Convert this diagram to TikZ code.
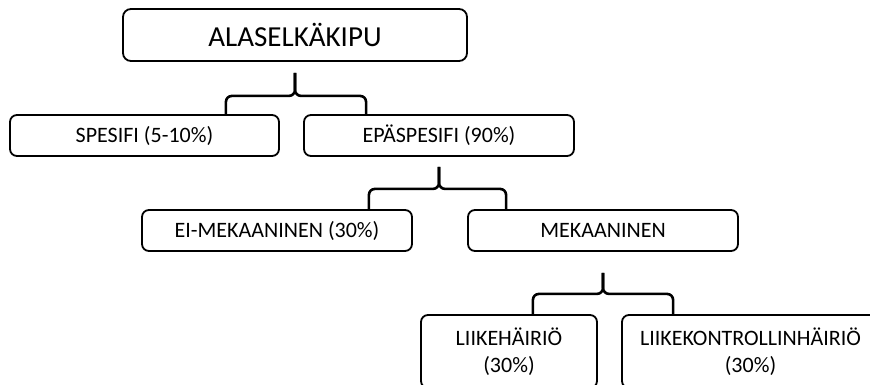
\documentclass[tikz,border=0pt]{standalone}
\usepackage{fontspec}
\setmainfont{Carlito}
\usepackage{tikz}

\begin{document}
\begin{tikzpicture}
[x=1pt,y=-1pt,
root/.style={rectangle,draw=black,line width=1.8pt,rounded corners=8pt,minimum width=344pt,minimum height=52pt,inner sep=0pt,font=\fontsize{29}{35}\selectfont},
catg/.style={rectangle,draw=black,line width=1.8pt,rounded corners=7pt,minimum width=270pt,minimum height=41pt,inner sep=0pt,align=center,font=\fontsize{22}{27}\selectfont},
subc/.style={catg,minimum height=73pt},
brac/.style={draw=black,line width=2.6pt,rounded corners=6pt}]
\useasboundingbox (0,0) rectangle (870,385);
\node at (295,35) [root] (alas) {ALASELKÄKIPU};
\node at (144.5,135.5) [catg,minimum width=269pt] (spes) {SPESIFI (5-10\%)};
\node at (439,135.5) [catg] (epas) {EPÄSPESIFI (90\%)};
\node at (277,230.5) [catg] (eimk) {EI-MEKAANINEN (30\%)};
\node at (603,230.5) [catg] (mekn) {MEKAANINEN};
\node at (509,351.5) [subc,minimum width=176pt] (liik) {LIIKEHÄIRIÖ\\(30\%)};
\node at (750.5,351.5) [subc,minimum width=257pt] (kont) {LIIKEKONTROLLINHÄIRIÖ\\(30\%)};
% braces
\draw[brac] (alas.south) ++(0,11) -- ++(0,23) -| ([xshift=-54pt]spes.north east);
\draw[brac] (alas.south) ++(0,11) -- ++(0,23) -| ([xshift=63pt]epas.north west);
\draw[brac] (epas.south) ++(0,10) -- ++(0,22) -| ([xshift=-44pt]eimk.north east);
\draw[brac] (epas.south) ++(0,10) -- ++(0,22) -| ([xshift=39pt]mekn.north west);
\draw[brac] (mekn.south) ++(0,21) -- ++(0,21) -| ([xshift=-65pt]liik.north east);
\draw[brac] (mekn.south) ++(0,21) -- ++(0,21) -| ([xshift=52pt]kont.north west);
\end{tikzpicture}
\end{document}
